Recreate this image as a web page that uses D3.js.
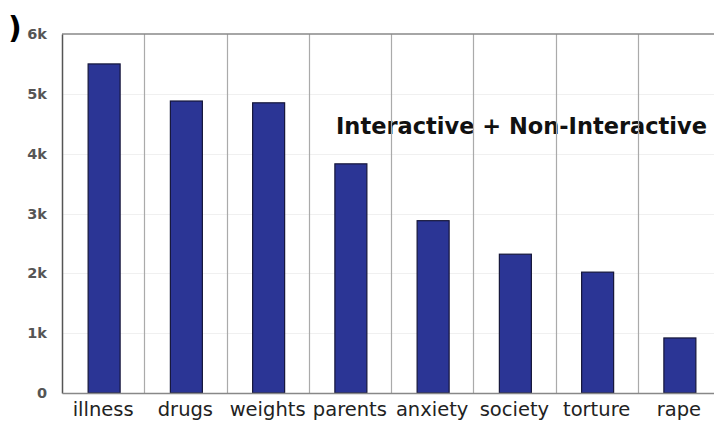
<!DOCTYPE html>
<html>
<head>
<meta charset="utf-8">
<script src="https://cdn.jsdelivr.net/npm/d3@7"></script>
<style>
  body { margin: 0; background: #fff; overflow: hidden; }
  svg { display: block; }
</style>
</head>
<body>
<svg id="chart"></svg>
<script>
// values
var categories = ["illness", "drugs", "weights", "parents", "anxiety", "society", "torture", "rape"]
var counts = [5500, 4880, 4850, 3830, 2880, 2320, 2020, 920]
var yTicks = [0, 1000, 2000, 3000, 4000, 5000, 6000]
var yTickLabels = ["0", "1k", "2k", "3k", "4k", "5k", "6k"]
var title = "Interactive + Non-Interactive"

var dimensions = {
    width: 714,
    height: 422,
    margin: { top: 34, bottom: 29, left: 62, right: -6 }
}

var svg = d3.select("#chart")
            .attr("width", dimensions.width)
            .attr("height", dimensions.height)

var xScale = d3.scaleBand()
                .domain(categories)
                .range([dimensions.margin.left, dimensions.width - dimensions.margin.right])
                .paddingInner(0)
                .paddingOuter(0)

var yScale = d3.scaleLinear()
                .domain([0, 6000])
                .range([dimensions.height - dimensions.margin.bottom, dimensions.margin.top])

var bottom = yScale(0)

// faint horizontal grid
svg.append("g")
    .selectAll("line")
    .data(yTicks.slice(1, -1))
    .enter()
    .append("line")
    .attr("x1", dimensions.margin.left)
    .attr("x2", dimensions.width)
    .attr("y1", d => Math.round(yScale(d)) + 0.5)
    .attr("y2", d => Math.round(yScale(d)) + 0.5)
    .attr("stroke", "#f0f0f0")

// title sits under the vertical lines
svg.append("text")
    .attr("x", 336)
    .attr("y", 134)
    .attr("font-family", "DejaVu Sans, Verdana, sans-serif")
    .attr("font-weight", "bold")
    .attr("font-size", 22.5)
    .attr("fill", "#111")
    .text(title)

// the stray bracket at top left
svg.append("text")
    .attr("x", 8)
    .attr("y", 38)
    .attr("font-family", "DejaVu Sans, sans-serif")
    .attr("font-weight", "bold")
    .attr("font-size", 30)
    .attr("fill", "#000")
    .text(")")

// vertical separators between categories
svg.append("g")
    .selectAll("line")
    .data(categories.slice(1))
    .enter()
    .append("line")
    .attr("x1", d => Math.round(xScale(d)) + 0.5)
    .attr("x2", d => Math.round(xScale(d)) + 0.5)
    .attr("y1", dimensions.margin.top)
    .attr("y2", bottom)
    .attr("stroke", "#aaa")
    .attr("stroke-width", 1.2)

// top border
svg.append("line")
    .attr("x1", dimensions.margin.left)
    .attr("x2", dimensions.width)
    .attr("y1", dimensions.margin.top)
    .attr("y2", dimensions.margin.top)
    .attr("stroke", "#888")
    .attr("stroke-width", 1.5)

// bars
var barWidth = 32
svg.append("g")
    .selectAll("rect")
    .data(categories)
    .enter()
    .append("rect")
    .attr("x", d => xScale(d) + xScale.bandwidth() / 2 - barWidth / 2 + 1)
    .attr("y", (d, i) => yScale(counts[i]))
    .attr("width", barWidth)
    .attr("height", (d, i) => bottom - yScale(counts[i]))
    .attr("fill", "#2b3595")
    .attr("stroke", "#15163a")
    .attr("stroke-width", 1.2)

// axes
var yAxisgen = d3.axisLeft(yScale)
                .tickValues(yTicks)
                .tickFormat((d, i) => yTickLabels[i])
                .tickSize(0)
                .tickPadding(15)

var yAxis = svg.append("g")
                .attr("transform", `translate(${dimensions.margin.left},0)`)
                .call(yAxisgen)
yAxis.select(".domain").attr("stroke", "#555").attr("stroke-width", 1.5)
yAxis.selectAll("text")
    .attr("font-family", "DejaVu Sans, Verdana, sans-serif")
    .attr("font-weight", "bold")
    .attr("font-size", 14.5)
    .attr("fill", "#555")

var xAxisgen = d3.axisBottom(xScale)
                .tickSize(0)
                .tickPadding(9)

var xAxis = svg.append("g")
                .attr("transform", `translate(0,${bottom})`)
                .call(xAxisgen)
xAxis.select(".domain").attr("stroke", "#888").attr("stroke-width", 1.5)
xAxis.selectAll("text")
    .attr("font-family", "DejaVu Sans, Verdana, sans-serif")
    .attr("font-size", 19.5)
    .attr("fill", "#222")
</script>
</body>
</html>
